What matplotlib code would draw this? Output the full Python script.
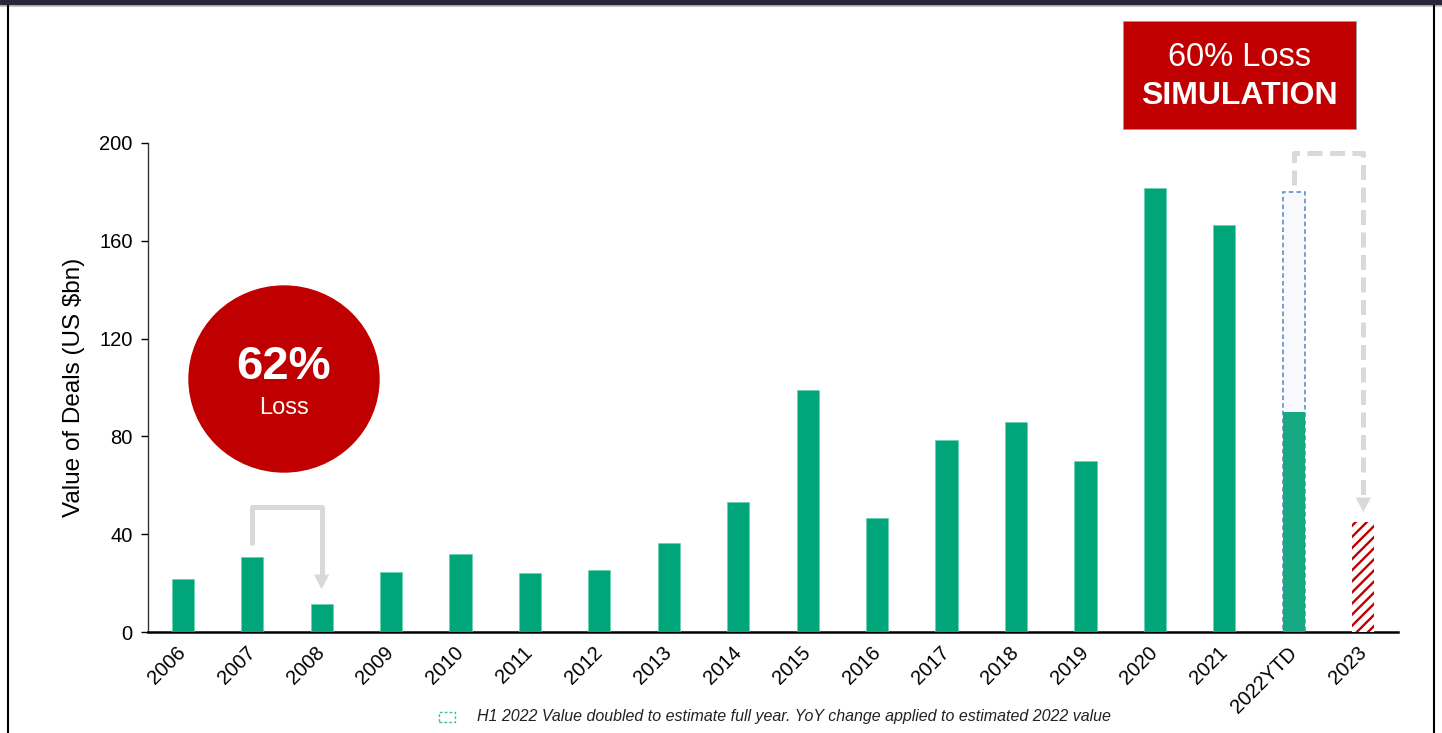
import matplotlib.pyplot as plt
import numpy as np
from matplotlib.patches import Rectangle, Ellipse
from matplotlib.lines import Line2D

plt.rcParams['font.family'] = ['Liberation Sans', 'DejaVu Sans']
plt.rcParams['hatch.linewidth'] = 1.7

# data
years = ['2006', '2007', '2008', '2009', '2010', '2011', '2012', '2013', '2014',
         '2015', '2016', '2017', '2018', '2019', '2020', '2021', '2022YTD', '2023']
values = [21.5, 30.5, 11.5, 24.5, 32, 24, 25.5, 36.5, 53, 99, 46.5, 78.5, 86,
          70, 181.5, 166.5, 90, 45]
est_2022 = 180          # H1 2022 doubled
yticks = [0, 40, 80, 120, 160, 200]

# arrows: (from idx, to idx, start y, top y, tip y)
arrow_2008 = (1, 2, 35.5, 51, 17.5)
arrow_2023 = (16, 17, 183, 196, 49)

GREEN = '#00a57a'
RED = '#c00000'
ARROW = '#d9d9d9'
W, H = 1442, 733

fig = plt.figure(figsize=(W / 100, H / 100), dpi=100)
ax = fig.add_axes([148 / W, 1 - 632 / H, 1250 / W, 489 / H])

x = np.arange(len(years))
bw = 0.32

# regular green bars (all but last two)
ax.bar(x[:-2], values[:-2], width=bw, color=GREEN, edgecolor='#5fd0ac', linewidth=0.4, zorder=3)
# 2022 estimate (dashed) + YTD bar
ax.bar(x[-2], est_2022, width=bw, facecolor='#f7f9fd', edgecolor='#5b82cc',
       linewidth=1.1, linestyle=(0, (3, 2)), zorder=2)
ax.bar(x[-2], values[-2], width=bw, color='#16a983', linewidth=0, zorder=3)
# 2023 simulation, hatched
ax.bar(x[-1], values[-1], width=bw, facecolor='white', edgecolor=RED,
       hatch='///', linewidth=0, zorder=3)


def draw_arrow(spec, dashed=False):
    i0, i1, y0, ytop, ytip = spec
    head_len, head_w = 6.0, 0.11
    kw = dict(color=ARROW, lw=3.6, solid_capstyle='butt', zorder=4, clip_on=False)
    if dashed:
        kw['linestyle'] = (0, (3, 1.5))
    ax.plot([x[i0], x[i0], x[i1], x[i1]], [y0, ytop, ytop, ytip + head_len], **kw)
    ax.fill([x[i1] - head_w, x[i1] + head_w, x[i1]],
            [ytip + head_len, ytip + head_len, ytip], color=ARROW, lw=0, zorder=4, clip_on=False)


draw_arrow(arrow_2008)
draw_arrow(arrow_2023, dashed=True)

ax.set_xlim(-0.5, len(years) - 0.5)
ax.set_ylim(0, 200)
ax.set_yticks(yticks)
ax.set_xticks(x)
ax.set_xticklabels(years, rotation=45, ha='right', va='center', rotation_mode='anchor')
ax.tick_params(axis='x', length=0, pad=13, labelsize=14.5)
ax.tick_params(axis='y', length=5, width=1, direction='out', labelsize=14.5, pad=6)
for s in ['top', 'right']:
    ax.spines[s].set_visible(False)
ax.spines['left'].set_color('#333333')
ax.spines['left'].set_linewidth(1)
ax.spines['bottom'].set_linewidth(1.8)
ax.set_ylabel('Value of Deals (US $bn)', fontsize=17.5, labelpad=10)

# 62% loss circle
fig.add_artist(Ellipse((284 / W, 1 - 379 / H), 190 / W, 186 / H,
                       transform=fig.transFigure, color=RED, zorder=5))
fig.text(284 / W, 1 - 367 / H, '62%', ha='center', va='center', fontsize=34,
         fontweight='bold', color='white', zorder=6)
fig.text(284 / W, 1 - 408 / H, 'Loss', ha='center', va='center', fontsize=17,
         color='white', zorder=6)

# 60% loss simulation box
fig.add_artist(Rectangle((1123 / W, 1 - 129 / H), 233 / W, 108 / H,
                         transform=fig.transFigure, facecolor=RED, edgecolor='#9a9a9a',
                         linewidth=0.6, zorder=5))
fig.text(1239 / W, 1 - 57 / H, '60% Loss', ha='center', va='center', fontsize=23.5,
         color='white', zorder=6)
fig.text(1239 / W, 1 - 96 / H, 'SIMULATION', ha='center', va='center', fontsize=23,
         fontweight='bold', color='white', zorder=6)

# footnote
fig.add_artist(Rectangle((439 / W, 1 - 722 / H), 16 / W, 10 / H, transform=fig.transFigure,
                         fill=False, edgecolor='#3cc0a0', linestyle=(0, (2, 1.5)), linewidth=1))
fig.text(477 / W, 1 - 717 / H,
         'H1 2022 Value doubled to estimate full year. YoY change applied to estimated 2022 value',
         ha='left', va='center', fontsize=11.5, style='italic', color='#222222')

# page frame
fig.add_artist(Rectangle((0, 1 - 4 / H), 1, 4 / H, transform=fig.transFigure,
                         color='#2c2439', zorder=10))
fig.add_artist(Line2D([0, 1], [1 - 5.5 / H] * 2, transform=fig.transFigure,
                      color='#c8c8c8', lw=1.5))
fig.add_artist(Line2D([7.5 / W] * 2, [0, 1 - 5 / H], transform=fig.transFigure,
                      color='black', lw=1.5))
fig.add_artist(Line2D([1433.5 / W] * 2, [0, 1 - 5 / H], transform=fig.transFigure,
                      color='black', lw=1.5))

fig.savefig('out.png', dpi=100)
